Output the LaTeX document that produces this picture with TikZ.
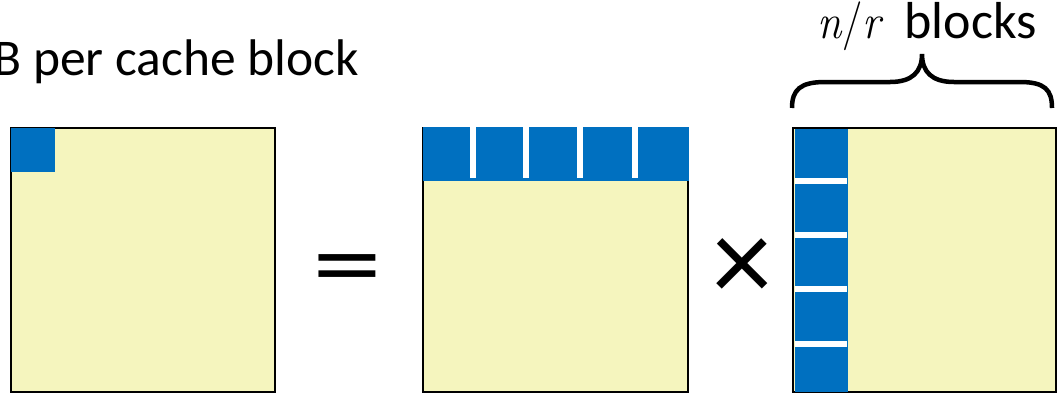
\documentclass[tikz,border=0pt]{standalone}
\usepackage{fontspec}
\setmainfont{Carlito}
\newfontfamily\lmr{Latin Modern Roman}
\definecolor{matyellow}{HTML}{F5F5BE}
\definecolor{matblue}{HTML}{0070C0}
\begin{document}
\begin{tikzpicture}[x=1pt,y=-1pt,
  matrixbox/.style={fill=matyellow,draw=black,line width=1.5pt},
  blueblk/.style={fill=matblue,draw=none},
  gapblk/.style={fill=white,draw=none},
  bigtxt/.style={inner sep=0pt,font=\fontsize{51.5}{60}\selectfont},
  medtxt/.style={inner sep=0pt,font=\fontsize{52}{60}\selectfont},
  mathtxt/.style={inner sep=0pt,font=\fontsize{49}{55}\selectfont\lmr},
  eqtxt/.style={inner sep=0pt,font=\fontsize{165}{165}\selectfont},
  timestxt/.style={inner sep=0pt,font=\fontsize{120}{120}\selectfont},
  bracepath/.style={draw=black,line width=4.5pt}]
\useasboundingbox (0,0) rectangle (1057,392);
\clip (0,0) rectangle (1057,392);
% left matrix
\draw[matrixbox] (11,128) rectangle (275,392);
\fill[blueblk] (10.5,127.5) rectangle (55,172);
% middle matrix
\draw[matrixbox] (423,128) rectangle (688,392);
\fill[blueblk] (422.5,127) rectangle (688.5,181);
\foreach \g in {470,523,577,632} \fill[gapblk] (\g,126) rectangle (\g+6,178);
% right matrix
\draw[matrixbox] (793,128) rectangle (1056,392);
\fill[blueblk] (795,128.5) rectangle (848,392);
\foreach \g in {178,232,286,341} \fill[gapblk] (795,\g) rectangle (847,\g+6);
% operators
\node[eqtxt] (eq) at (347,276.5) {\scalebox{0.85}[0.62]{=}};
\node[timestxt] (times) at (742.5,270) {×};
% labels
\node[bigtxt,anchor=base east] (lbl) at (359,75) {B per cache block};
\node[mathtxt,anchor=base east] (nr) at (881,38) {\scalebox{0.9}[1]{\itshape n\/\upshape/\itshape r}};
\node[medtxt,anchor=base east] (blk) at (1037,38) {blocks};
% brace
\draw[bracepath] (792,108) .. controls (792,90) and (800,82) .. (825,82) -- (890,82)
  .. controls (912,82) and (922,72) .. (922,54)
  .. controls (922,72) and (932,82) .. (954,82) -- (1020,82)
  .. controls (1045,82) and (1052,90) .. (1052,108);
\end{tikzpicture}
\end{document}
